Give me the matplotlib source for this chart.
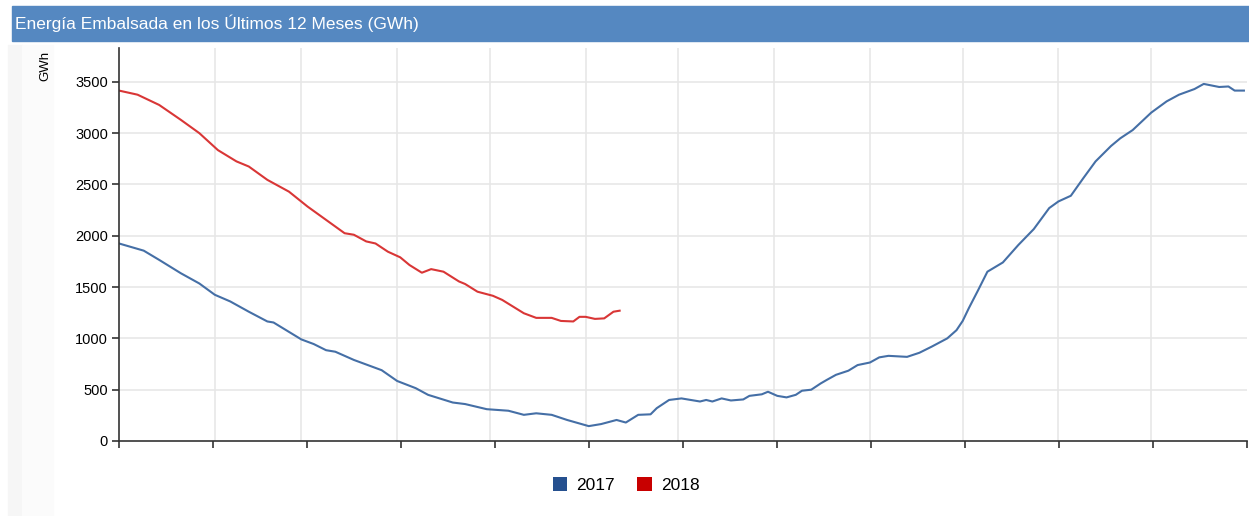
import matplotlib
matplotlib.use("Agg")
import matplotlib.pyplot as plt
from matplotlib.patches import Rectangle, Patch
import numpy as np

plt.rcParams['font.family'] = ['Liberation Sans', 'DejaVu Sans']

# Day of year and stored energy (GWh)
days_2017 = [0, 8, 13, 20, 26, 31, 36, 42, 48, 50, 59, 63, 67, 70, 76, 85, 90, 96, 100, 108,
             112, 119, 126, 131, 135, 140, 145, 152, 156, 161, 164, 168, 172, 174, 178, 182, 185, 188, 190, 192,
             195, 198, 202, 204, 208, 210, 213, 216, 219, 221, 224, 227, 229, 232, 236, 239, 243, 246, 249, 255,
             259, 263, 268, 271, 273, 275, 278, 281, 286, 291, 296, 301, 304, 308, 312, 316, 321, 324, 328, 334,
             339, 343, 348, 351, 356, 359, 361, 364]
gwh_2017 = [1925, 1855, 1765, 1635, 1535, 1425, 1360, 1260, 1165, 1155, 990, 945, 885, 870, 790, 690, 585, 515, 450, 375,
            360, 310, 295, 255, 270, 255, 205, 145, 165, 205, 180, 255, 260, 320, 400, 415, 400, 385, 400, 385,
            415, 395, 405, 440, 455, 480, 440, 425, 450, 490, 500, 560, 595, 645, 685, 740, 765, 815, 830, 820,
            860, 920, 1000, 1080, 1170, 1295, 1470, 1650, 1740, 1910, 2065, 2270, 2335, 2390, 2560, 2725, 2875, 2950, 3030, 3200,
            3310, 3375, 3430, 3480, 3450, 3455, 3415, 3415]

days_2018 = [0, 6, 13, 20, 26, 32, 38, 42, 48, 55, 61, 67, 73, 76, 80, 83, 87, 91, 94, 98,
             101, 105, 110, 112, 116, 121, 124, 131, 135, 140, 143, 147, 149, 151, 154, 157, 160, 162]
gwh_2018 = [3415, 3375, 3275, 3130, 3000, 2835, 2725, 2675, 2545, 2430, 2285, 2155, 2025, 2010, 1945, 1925, 1845, 1790, 1715, 1640,
            1675, 1650, 1555, 1530, 1455, 1415, 1375, 1245, 1200, 1200, 1170, 1165, 1210, 1210, 1190, 1195, 1260, 1270]

month_lengths = [31, 28, 31, 30, 31, 30, 31, 31, 30, 31, 30, 31]
yticks = [0, 500, 1000, 1500, 2000, 2500, 3000, 3500]

W, H = 1249, 516
fig = plt.figure(figsize=(W / 100, H / 100), dpi=100)

# light side strips on the left
fig.patches.append(Rectangle((8 / W, 0), 14 / W, 1 - 45 / H, transform=fig.transFigure,
                             color="#f6f6f6", zorder=0))
fig.patches.append(Rectangle((22 / W, 0), 31 / W, 1 - 45 / H, transform=fig.transFigure,
                             color="#fbfbfb", zorder=0))

# header bar
fig.patches.append(Rectangle((12 / W, 1 - 41 / H), 1, 35 / H, transform=fig.transFigure,
                             color="#5588c1", zorder=1))
fig.text(15 / W, 1 - 23 / H, "Energía Embalsada en los Últimos 12 Meses (GWh)",
         color="white", fontsize=12.5, va="center", ha="left")

ax = fig.add_axes([119 / W, 1 - 441 / H, 1128 / W, (441 - 48) / H])
ax.set_facecolor("none")

ax.plot(days_2017, gwh_2017, color="#456fa6", linewidth=1.5)
ax.plot(days_2018, gwh_2018, color="#d93636", linewidth=1.5)

ax.set_xlim(0, 365)
ax.set_ylim(0, 3830)

# grid: horizontal at y ticks, vertical at month boundaries
for y in yticks[1:]:
    ax.axhline(y, color="#e6e6e6", linewidth=1.1, zorder=0)
for d in np.cumsum(month_lengths)[:-1]:
    ax.axvline(d, color="#e6e6e6", linewidth=1.1, zorder=0)

ax.set_yticks(yticks)
ax.set_yticklabels([str(v) for v in yticks])
ax.set_xticks(np.linspace(0, 365, 13))
ax.set_xticklabels([])

for s in ["top", "right"]:
    ax.spines[s].set_visible(False)
for s in ["left", "bottom"]:
    ax.spines[s].set_color("#333333")
    ax.spines[s].set_linewidth(1.2)
ax.tick_params(direction="out", length=5, width=1.2, color="#333333",
               labelsize=10.5, pad=3)

fig.text(45 / W, 1 - 66 / H, "GWh", rotation=90, fontsize=9.5, ha="center", va="center")

handles = [Patch(facecolor="#25508f", edgecolor="none", label="2017"),
           Patch(facecolor="#c80000", edgecolor="none", label="2018")]
fig.legend(handles=handles, loc="center", bbox_to_anchor=(626 / W, 1 - 485 / H), ncol=2,
           frameon=False, fontsize=12.5, handlelength=0.85, handleheight=0.85,
           handletextpad=0.5, columnspacing=1.3)

fig.savefig("out.png", dpi=100)
